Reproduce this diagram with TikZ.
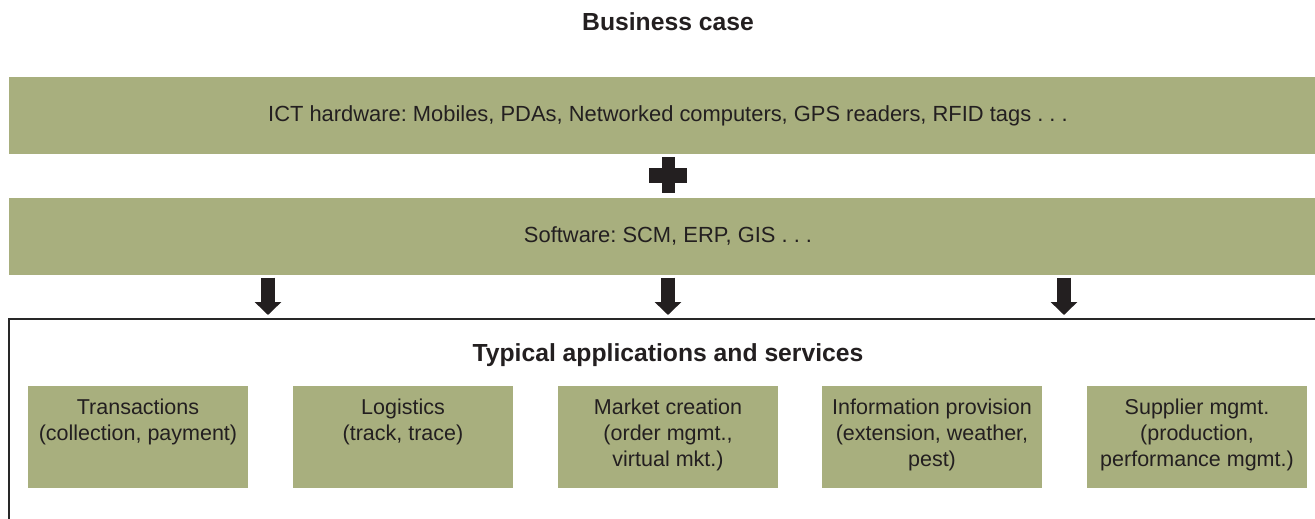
\documentclass[tikz,border=0pt]{standalone}
\usepackage{fontspec}
\setmainfont{Liberation Sans}
\frenchspacing
\usetikzlibrary{arrows.meta,positioning,calc}
\definecolor{olive}{RGB}{168,175,126}
\definecolor{ink}{RGB}{35,31,32}
\definecolor{framec}{RGB}{40,40,40}
\tikzset{
  band/.style={fill=olive,draw=none,minimum width=1318pt,minimum height=77pt,inner sep=0pt,text=ink,font=\fontsize{21.9}{25}\selectfont},
  appbox/.style={fill=olive,draw=none,minimum width=220pt,minimum height=102pt,inner sep=0pt,anchor=north},
  apptext/.style={anchor=north,align=center,text=ink,inner sep=0pt,font=\fontsize{21.5}{26}\selectfont},
  heading/.style={text=ink,font=\bfseries\fontsize{24.7}{28}\selectfont,inner sep=0pt},
  bigarrow/.style={ink,line width=14pt,-{Triangle[width=26pt,length=13pt]}},
}
\begin{document}
\begin{tikzpicture}[x=1pt,y=-1pt]
\useasboundingbox (0,0) rectangle (1315,519);
\clip (0,0) rectangle (1315,519);
\node[heading] (title) at (668,22) {Business case};
\node[band] (hw) at (668,115.5) {ICT hardware: Mobiles, PDAs, Networked computers, GPS readers, RFID tags . . .};
\node[band] (sw) at (668,236) {Software: SCM, ERP, GIS . . .};
\node[draw=framec,line width=1.5pt,minimum width=1318pt,minimum height=260pt,inner sep=0pt,anchor=north] (frame) at (668,318) {};
\node[heading] (apps) at (668,355) {Typical applications and services};
% plus sign
\fill[ink] (649,168) rectangle (687,182.5);
\fill[ink] (661.5,157) rectangle (675,193);
% arrows
\foreach \x in {268,668,1064}{
  \draw[bigarrow] (sw.south -| \x,0) ++(0,3) -- ($(frame.north -| \x,0)+(0,-3)$);
}
% application boxes
\foreach \i/\x/\t in {1/138/{Transactions\\(collection, payment)},
                      2/403/{Logistics\\(track, trace)},
                      3/668/{Market creation\\(order mgmt.,\\virtual mkt.)},
                      4/932/{Information provision\\(extension, weather,\\pest)},
                      5/1197/{Supplier mgmt.\\(production,\\performance mgmt.)}}{
  \node[appbox] (b\i) at (\x,386) {};
  \node[apptext] (t\i) at ($(b\i.north)+(0,13)$) {\t};
}
\end{tikzpicture}
\end{document}
